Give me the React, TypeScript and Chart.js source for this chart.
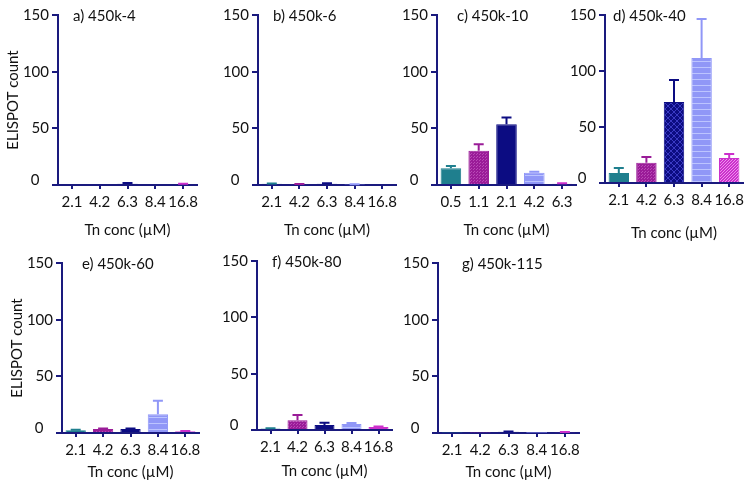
import React, { useEffect, useRef } from 'react';
import { Chart, registerables } from 'chart.js';

Chart.register(...registerables);

// ---------- DATA ----------
const concLabels = ['2.1', '4.2', '6.3', '8.4', '16.8'];
const concLabelsC = ['0.5', '1.1', '2.1', '4.2', '6.3'];

const panelTitles = ['a) 450k-4', 'b) 450k-6', 'c) 450k-10', 'd) 450k-40', 'e) 450k-60', 'f) 450k-80', 'g) 450k-115'];

const valuesA = [0, 0, 1.2, 0, 0.8];
const errorsA = [0, 0, 0.5, 0, 0.3];
const valuesB = [1, 0.6, 1, 0.5, 0];
const errorsB = [0.3, 0.2, 0.5, 0.2, 0];
const valuesC = [14.8, 30.3, 53.5, 10.8, 1.2];
const errorsC = [2, 5.7, 6, 1, 0.3];
const valuesD = [9, 18, 72.3, 111.5, 22.3];
const errorsD = [4.5, 5.2, 19.7, 35, 3.6];
const valuesE = [2.5, 3.5, 3.5, 16.5, 1.5];
const errorsE = [0.3, 0.4, 0.4, 12, 0.3];
const valuesF = [1.3, 8.6, 4.4, 5.4, 2.6];
const errorsF = [0.3, 4.7, 2.1, 0.8, 0.4];
const valuesG = [0.4, 0.4, 1, 0.3, 0.6];
const errorsG = [0, 0, 0.4, 0, 0.2];

const yTicks = [0, 50, 100, 150];
const yAxisTitle = 'ELISPOT count';
const xAxisTitle = 'Tn conc (µM)';

// ---------- STYLE / LAYOUT ----------
const FONT = 'Lato, "Open Sans", sans-serif';
const TEXT = '#111111';
const AXIS = '#1a1a7e';
const BAR_BASE = ['#1f7f8e', '#9a1c98', '#0c0c82', '#9097f7', '#cc30cc'];
const YW = 54;
const PAD_TOP = 20;
const PAD_RIGHT = 12;

type Layout = { left: number; top: number; w: number; h: number; xh: number; yTitle: boolean; titleOffset: number; xTitleGap: number; hatchAll: boolean };

const layouts: Layout[] = [
  { left: 58, top: 15, w: 139, h: 170, xh: 64, yTitle: true, titleOffset: 15, xTitleGap: 45, hatchAll: false },
  { left: 258, top: 15, w: 138, h: 170, xh: 64, yTitle: false, titleOffset: 15, xTitleGap: 45, hatchAll: false },
  { left: 437, top: 15, w: 139, h: 170, xh: 64, yTitle: false, titleOffset: 20, xTitleGap: 45, hatchAll: false },
  { left: 605, top: 15, w: 138, h: 168, xh: 64, yTitle: false, titleOffset: 8, xTitleGap: 50, hatchAll: true },
  { left: 62, top: 263, w: 137, h: 170, xh: 58, yTitle: true, titleOffset: 20, xTitleGap: 39, hatchAll: false },
  { left: 257, top: 261, w: 135, h: 169, xh: 60, yTitle: false, titleOffset: 15, xTitleGap: 41, hatchAll: false },
  { left: 438, top: 263, w: 141, h: 170, xh: 58, yTitle: false, titleOffset: 24, xTitleGap: 39, hatchAll: false },
];

const panelData = [
  { labels: concLabels, values: valuesA, errors: errorsA },
  { labels: concLabels, values: valuesB, errors: errorsB },
  { labels: concLabelsC, values: valuesC, errors: errorsC },
  { labels: concLabels, values: valuesD, errors: errorsD },
  { labels: concLabels, values: valuesE, errors: errorsE },
  { labels: concLabels, values: valuesF, errors: errorsF },
  { labels: concLabels, values: valuesG, errors: errorsG },
];

function makePattern(ctx: CanvasRenderingContext2D, base: string, fg: string, kind: string): CanvasPattern | string {
  const c = document.createElement('canvas');
  const s = kind === 'stripes' ? 6 : kind === 'cross' ? 6 : 3;
  c.width = s;
  c.height = s;
  const g = c.getContext('2d');
  if (!g) return base;
  g.fillStyle = base;
  g.fillRect(0, 0, s, s);
  g.fillStyle = fg;
  if (kind === 'stripes') {
    g.fillRect(0, 0, s, 1);
  } else if (kind === 'dots') {
    g.fillRect(0, 0, 1, 1);
    g.fillRect(1, 2, 1, 1);
  } else if (kind === 'cross') {
    for (let i = 0; i < s; i++) {
      g.fillRect(i, i, 1, 1);
      g.fillRect(s - 1 - i, i, 1, 1);
    }
  } else if (kind === 'checker') {
    g.fillRect(0, 0, 1, 1);
    g.fillRect(2, 1, 1, 1);
    g.fillRect(1, 2, 1, 1);
  }
  const p = ctx.createPattern(c, 'repeat');
  return p || base;
}

const errorBarPlugin = {
  id: 'errorBars',
  afterDatasetsDraw(chart: any) {
    const ds: any = chart.data.datasets[0];
    const meta = chart.getDatasetMeta(0);
    const y = chart.scales.y;
    const ctx = chart.ctx;
    ctx.save();
    meta.data.forEach((bar: any, i: number) => {
      const e = ds.errors[i];
      if (!e) return;
      const v = ds.data[i];
      const yBar = y.getPixelForValue(v);
      const yTop = y.getPixelForValue(v + e);
      ctx.strokeStyle = BAR_BASE[i];
      ctx.lineWidth = 2;
      ctx.beginPath();
      ctx.moveTo(bar.x, yBar);
      ctx.lineTo(bar.x, yTop);
      ctx.moveTo(bar.x - 5, yTop);
      ctx.lineTo(bar.x + 5, yTop);
      ctx.stroke();
    });
    ctx.restore();
  },
};

const panelTextPlugin = {
  id: 'panelText',
  afterDraw(chart: any, _args: any, opts: any) {
    const ctx = chart.ctx;
    const a = chart.chartArea;
    const y = chart.scales.y;
    ctx.save();
    ctx.fillStyle = TEXT;
    ctx.font = `15px ${FONT}`;
    ctx.textBaseline = 'middle';
    ctx.textAlign = 'left';
    ctx.fillText(opts.text, a.left + opts.offset, a.top + 1);
    ctx.textAlign = 'center';
    ctx.fillText('0', a.left - 23, y.getPixelForValue(0) - 5);
    ctx.restore();
  },
};

function Panel({ idx }: { idx: number }) {
  const ref = useRef<HTMLCanvasElement>(null);
  const L = layouts[idx];
  const D = panelData[idx];
  const cw = YW + L.w + PAD_RIGHT;
  const ch = PAD_TOP + L.h + L.xh;

  useEffect(() => {
    const canvas = ref.current;
    if (!canvas) return;
    const ctx = canvas.getContext('2d');
    if (!ctx) return;
    const bg: any[] = [
      BAR_BASE[0],
      makePattern(ctx, BAR_BASE[1], '#b94ab7', 'dots'),
      L.hatchAll ? makePattern(ctx, BAR_BASE[2], '#3a3ac4', 'cross') : BAR_BASE[2],
      makePattern(ctx, BAR_BASE[3], '#bcc4ff', 'stripes'),
      L.hatchAll ? makePattern(ctx, BAR_BASE[4], '#ec92ec', 'checker') : BAR_BASE[4],
    ];
    const chart = new Chart(canvas, {
      type: 'bar',
      data: {
        labels: D.labels,
        datasets: [
          {
            data: D.values,
            errors: D.errors,
            backgroundColor: bg,
            borderColor: BAR_BASE,
            borderWidth: 1,
            barPercentage: 0.74,
            categoryPercentage: 1,
          } as any,
        ],
      },
      options: {
        responsive: false,
        animation: false,
        layout: { padding: { top: PAD_TOP, right: PAD_RIGHT, left: 0, bottom: 0 } },
        plugins: {
          legend: { display: false },
          tooltip: { enabled: false },
          panelText: { text: panelTitles[idx], offset: L.titleOffset },
        } as any,
        scales: {
          x: {
            type: 'category',
            offset: true,
            grid: { display: true, drawOnChartArea: false, drawTicks: true, tickLength: 4, offset: false, color: AXIS, lineWidth: 2 },
            border: { display: true, color: AXIS, width: 2 },
            ticks: { color: TEXT, font: { family: FONT, size: 15 }, padding: 4, maxRotation: 0, autoSkip: false },
            title: {
              display: true,
              text: xAxisTitle,
              color: TEXT,
              font: { family: FONT, size: 15 },
              padding: { top: 0, bottom: L.xh - L.xTitleGap - 9 },
            },
            afterFit: (s: any) => {
              s.height = L.xh;
            },
          },
          y: {
            min: 0,
            max: 150,
            afterBuildTicks: (s: any) => {
              s.ticks = yTicks.map((v) => ({ value: v }));
            },
            ticks: {
              color: TEXT,
              font: { family: FONT, size: 15 },
              padding: 3,
              callback: (v: any) => (Number(v) === 0 ? '' : String(v)),
            },
            grid: { display: true, drawOnChartArea: false, drawTicks: true, tickLength: 6, color: AXIS, lineWidth: 2 },
            border: { display: true, color: AXIS, width: 2 },
            title: {
              display: L.yTitle,
              text: yAxisTitle,
              color: TEXT,
              font: { family: FONT, size: 15 },
              padding: 0,
            },
            afterFit: (s: any) => {
              s.width = YW;
            },
          },
        },
      },
      plugins: [errorBarPlugin, panelTextPlugin],
    });
    return () => chart.destroy();
  }, [idx]);

  return (
    <canvas
      ref={ref}
      width={cw}
      height={ch}
      style={{ position: 'absolute', left: L.left - YW, top: L.top - PAD_TOP, width: cw, height: ch }}
    />
  );
}

export default function App() {
  return (
    <div style={{ position: 'absolute', left: 0, top: 0, width: 754, height: 493, background: '#ffffff', overflow: 'hidden' }}>
      {layouts.map((_, i) => (
        <Panel key={i} idx={i} />
      ))}
    </div>
  );
}
